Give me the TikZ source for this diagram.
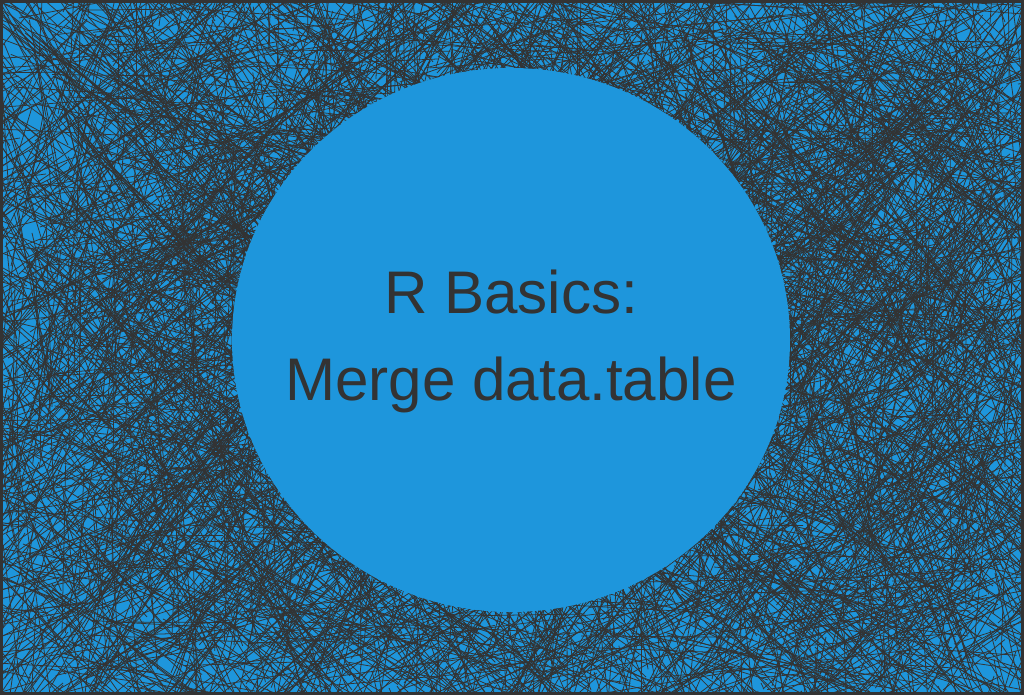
\documentclass[tikz,border=0pt]{standalone}
\usepackage{fontspec}
\setmainfont{Liberation Sans}
\definecolor{bgblue}{HTML}{1E96DC}
\definecolor{ink}{HTML}{333333}
\begin{document}
\begin{tikzpicture}[x=0.01cm,y=-0.01cm]
\useasboundingbox (0,0) rectangle (1024,695);
\fill[bgblue] (0,0) rectangle (1024,695);
\begin{scope}
\clip (0,0) rectangle (1024,695);
\pgfmathsetseed{7}
\foreach \i in {1,...,5500}{
  \pgfmathsetmacro{\xa}{random(0,1024)}
  \pgfmathsetmacro{\ya}{random(0,695)}
  \pgfmathsetmacro{\xb}{\xa+rand*220}
  \pgfmathsetmacro{\yb}{\ya+rand*220}
  \draw[ink,line width=0.22pt] (\xa,\ya) -- (\xb,\yb);
}
\end{scope}
\fill[bgblue] (511,340) ellipse [x radius=279, y radius=272];
\node[ink,font=\fontsize{17.1pt}{21pt}\selectfont] (t1) at (511,292) {R Basics:};
\node[ink,font=\fontsize{17.1pt}{21pt}\selectfont] (t2) at (511,385) {Merge data.table};
\draw[ink,line width=1.5pt] (0,0) rectangle (1024,695);
\end{tikzpicture}
\end{document}
